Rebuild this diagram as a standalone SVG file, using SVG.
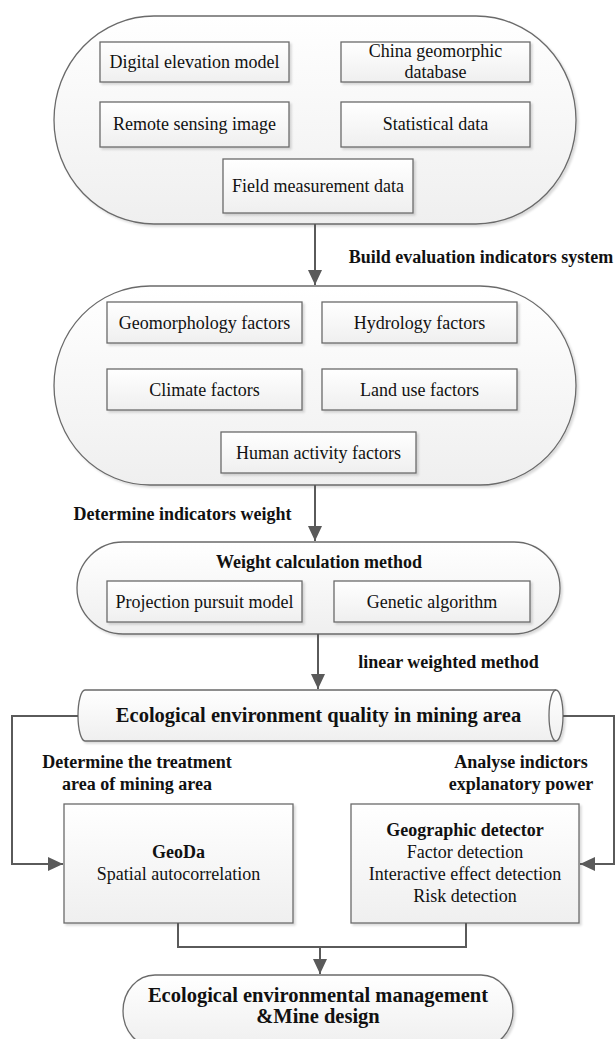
<svg xmlns="http://www.w3.org/2000/svg" width="616" height="1039" viewBox="0 0 616 1039">
<defs>
<linearGradient id="g" x1="0" y1="0" x2="0" y2="1"><stop offset="0" stop-color="#ffffff"/><stop offset="1" stop-color="#efefef"/></linearGradient>
<filter id="sh" x="-5%" y="-5%" width="115%" height="120%"><feDropShadow dx="2" dy="2" stdDeviation="1.2" flood-color="#000" flood-opacity="0.15"/></filter>
<marker id="ah" markerUnits="userSpaceOnUse" markerWidth="16" markerHeight="16" viewBox="0 0 16 16" refX="15" refY="8" orient="auto"><path d="M0,1 L15,8 L0,15 Z" fill="#5a5a5a"/></marker>
<style>
.c{fill:url(#g);stroke:#6a6a6a;stroke-width:1.3;filter:url(#sh)}
.b{fill:url(#g);stroke:#6a6a6a;stroke-width:1.3;filter:url(#sh)}
.t{font-family:"Liberation Serif","Times New Roman",serif;font-size:18px;fill:#111;text-anchor:middle}
.tb{font-family:"Liberation Serif","Times New Roman",serif;font-size:18px;font-weight:bold;fill:#111;text-anchor:middle}
.tl{font-family:"Liberation Serif","Times New Roman",serif;font-size:20.5px;font-weight:bold;fill:#111;text-anchor:middle}
.k{fill:none;stroke:#5a5a5a;stroke-width:2}
</style>
</defs>
<g id="data-sources">
<rect class="c" x="54" y="16" width="522" height="208" rx="100" ry="104"/>
<rect class="b" x="100" y="42" width="189" height="40"/>
<text class="t" x="194.5" y="68">Digital elevation model</text>
<rect class="b" x="341" y="42" width="189" height="40"/>
<text class="t" x="435.5" y="57">China geomorphic</text>
<text class="t" x="435.5" y="78">database</text>
<rect class="b" x="100" y="102" width="189" height="45"/>
<text class="t" x="194.5" y="130">Remote sensing image</text>
<rect class="b" x="341" y="102" width="189" height="45"/>
<text class="t" x="435.5" y="130">Statistical data</text>
<rect class="b" x="223" y="159" width="190" height="54"/>
<text class="t" x="318" y="192">Field measurement data</text>
</g>
<g id="factors">
<rect class="c" x="54" y="286" width="522" height="199" rx="96" ry="99.5"/>
<rect class="b" x="107" y="302" width="195" height="41"/>
<text class="t" x="204.5" y="329">Geomorphology factors</text>
<rect class="b" x="322" y="302" width="195" height="41"/>
<text class="t" x="419.5" y="329">Hydrology factors</text>
<rect class="b" x="107" y="369" width="195" height="41"/>
<text class="t" x="204.5" y="396">Climate factors</text>
<rect class="b" x="322" y="369" width="195" height="41"/>
<text class="t" x="419.5" y="396">Land use factors</text>
<rect class="b" x="221" y="432" width="195" height="41"/>
<text class="t" x="318.5" y="459">Human activity factors</text>
</g>
<g id="weight">
<rect class="c" x="77" y="542" width="483" height="92" rx="46" ry="46"/>
<text class="tb" x="319" y="568">Weight calculation method</text>
<rect class="b" x="107" y="581" width="195" height="41"/>
<text class="t" x="204.5" y="608">Projection pursuit model</text>
<rect class="b" x="334" y="581" width="196" height="41"/>
<text class="t" x="432" y="608">Genetic algorithm</text>
</g>
<g id="quality">
<path class="c" d="M85,690 L556,690 A7,25.5 0 0 1 556,741 L85,741 A7,25.5 0 0 1 85,690 Z"/>
<path d="M556,690 A7,25.5 0 0 0 556,741" fill="none" stroke="#6a6a6a" stroke-width="1.3"/>
<text class="tl" x="318.5" y="722">Ecological environment quality in mining area</text>
</g>
<g id="geoda">
<rect class="b" x="64" y="804" width="229" height="119"/>
<text class="tb" x="178.5" y="858">GeoDa</text>
<text class="t" x="178.5" y="880">Spatial autocorrelation</text>
</g>
<g id="geodetector">
<rect class="b" x="351" y="804" width="228" height="119"/>
<text class="tb" x="465" y="836">Geographic detector</text>
<text class="t" x="465" y="858">Factor detection</text>
<text class="t" x="465" y="880">Interactive effect detection</text>
<text class="t" x="465" y="902">Risk detection</text>
</g>
<g id="management">
<rect class="c" x="123" y="975" width="390" height="72" rx="32" ry="36"/>
<text class="tl" x="318" y="1002">Ecological environmental management</text>
<text class="tl" x="318" y="1023">&amp;Mine design</text>
</g>
<g id="connectors">
<path class="k" d="M315,224 L315,285" marker-end="url(#ah)"/>
<path class="k" d="M315,485 L315,541" marker-end="url(#ah)"/>
<path class="k" d="M318,634 L318,689" marker-end="url(#ah)"/>
<path class="k" d="M78,716 L12,716 L12,864 L63,864" marker-end="url(#ah)"/>
<path class="k" d="M563,716 L614,716 L614,864 L580,864" marker-end="url(#ah)"/>
<path class="k" d="M178,923 L178,947 L466,947 L466,923"/>
<path class="k" d="M320,947 L320,974" marker-end="url(#ah)"/>
</g>
<g id="labels">
<text class="tb" x="481" y="263">Build evaluation indicators system</text>
<text class="tb" x="182.5" y="520">Determine indicators weight</text>
<text class="tb" x="448.5" y="668">linear weighted method</text>
<text class="tb" x="137" y="768">Determine the treatment</text>
<text class="tb" x="137" y="790">area of mining area</text>
<text class="tb" x="521" y="768">Analyse indictors</text>
<text class="tb" x="521" y="790">explanatory power</text>
</g>
</svg>
